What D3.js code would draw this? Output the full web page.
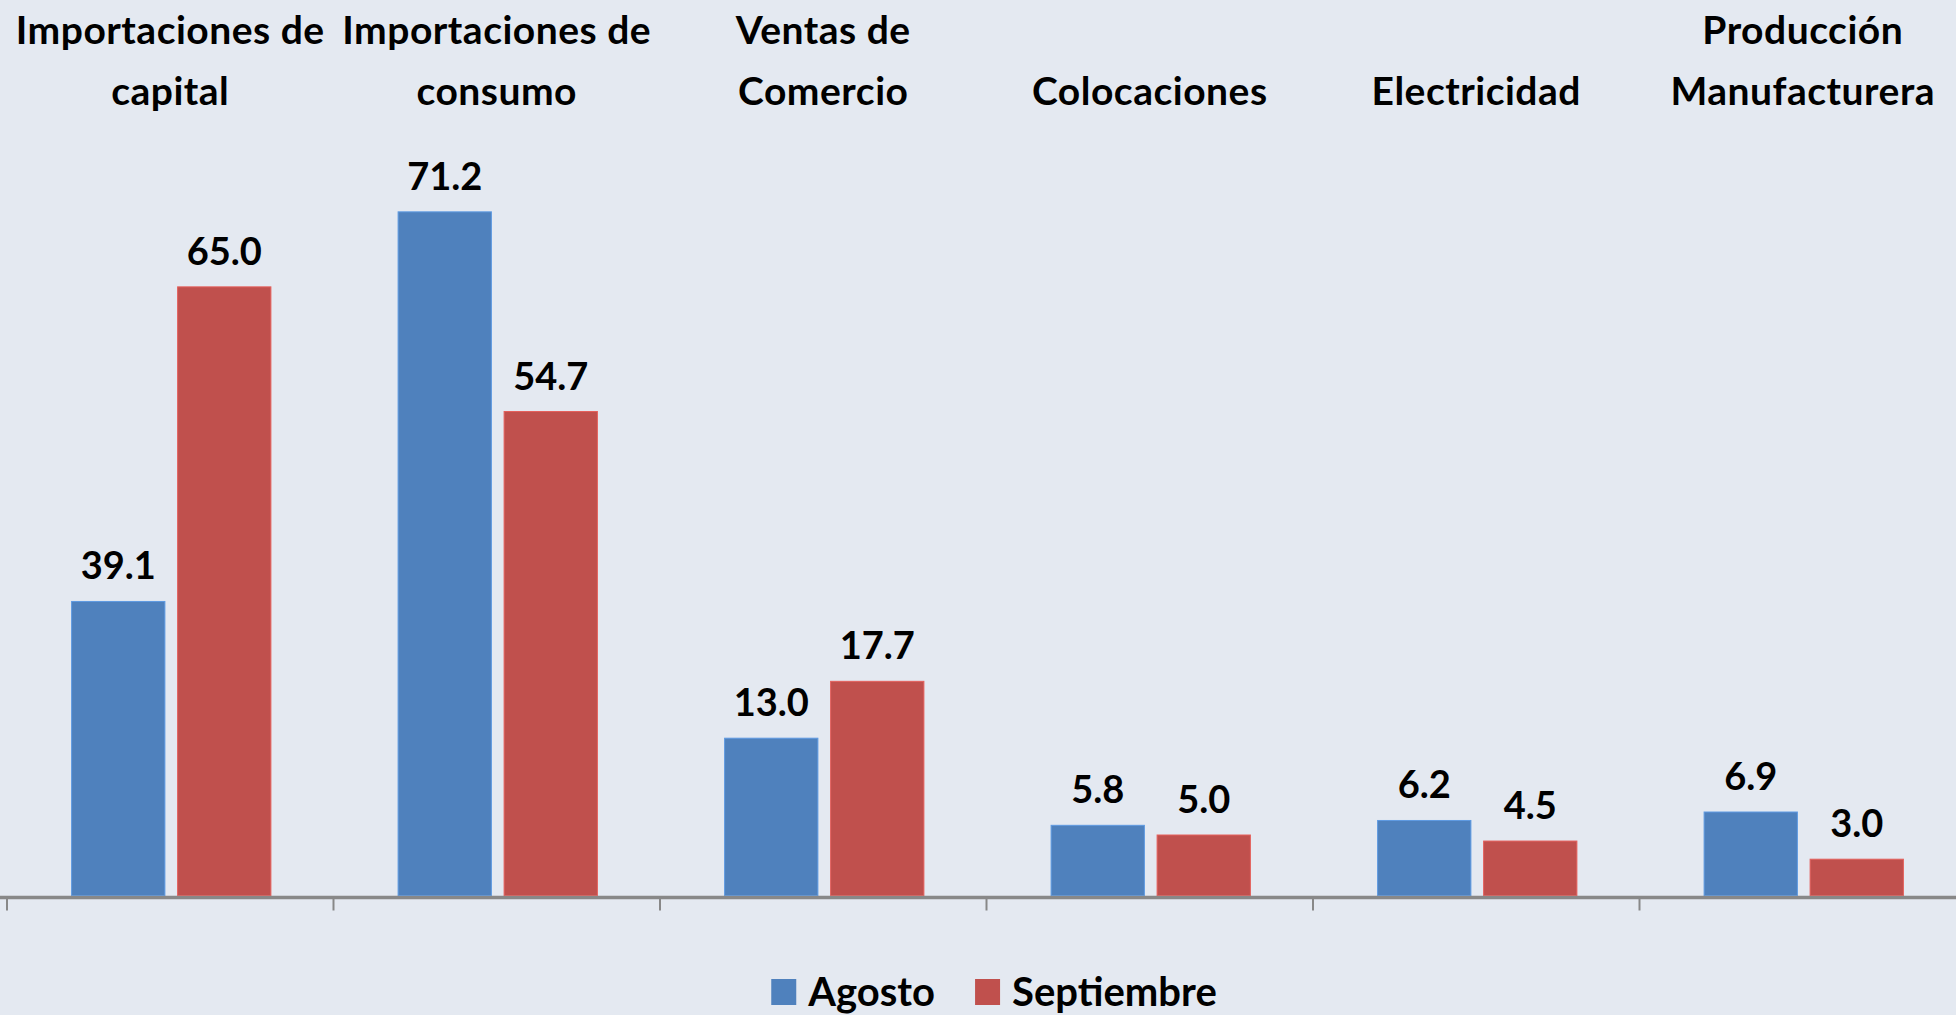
<!DOCTYPE html>
<html lang="es">
<head>
    <meta charset="UTF-8">
    <title>Agosto vs Septiembre</title>
    <style>
        body { margin: 0; background: #e4e9f1; overflow: hidden; }
        text { font-family: Lato, "DejaVu Sans", sans-serif; font-weight: bold; fill: #000; }
    </style>
</head>
<body>
    <div id="chart"></div>
    <script src="https://d3js.org/d3.v7.min.js"></script>
    <script>
        const categories = [
            ["Importaciones de", "capital"],
            ["Importaciones de", "consumo"],
            ["Ventas de", "Comercio"],
            ["Colocaciones"],
            ["Electricidad"],
            ["Producción", "Manufacturera"]
        ];
        const series = ["Agosto", "Septiembre"];
        const colors = ["#4f81bd", "#c0504d"];

        // printed data labels
        const agostoLabels = [39.1, 71.2, 13.0, 5.8, 6.2, 6.9];
        const septiembreLabels = [65.0, 54.7, 17.7, 5.0, 4.5, 3.0];
        // bar lengths as drawn in the picture (same units)
        const agostoBars = [24.3, 56.5, 13.0, 5.8, 6.2, 6.9];
        const septiembreBars = [50.3, 40.0, 17.7, 5.0, 4.5, 3.0];

        const W = 1956, H = 1015;
        const baseY = 895.5;

        const svg = d3.select("#chart")
            .append("svg")
            .attr("width", W)
            .attr("height", H);

        svg.append("rect")
            .attr("width", W)
            .attr("height", H)
            .attr("fill", "#e4e9f1");

        const x0 = d3.scaleBand()
            .domain(d3.range(categories.length))
            .range([7, 7 + 6 * 326.5]);

        const x1 = d3.scaleBand()
            .domain(series)
            .range([0, x0.bandwidth()])
            .paddingInner(0.12)
            .paddingOuter(0.6);

        const y = d3.scaleLinear()
            .domain([0, 60])
            .range([baseY, baseY - 60 * 12.1]);

        const rows = categories.map((c, i) => [
            { s: "Agosto", v: agostoBars[i], label: agostoLabels[i], color: colors[0] },
            { s: "Septiembre", v: septiembreBars[i], label: septiembreLabels[i], color: colors[1] }
        ]);

        const groups = svg.selectAll(".grp")
            .data(rows)
            .join("g")
            .attr("class", "grp")
            .attr("transform", (d, i) => "translate(" + (x0(i) + 1) + ",0)");

        groups.selectAll("rect")
            .data(d => d)
            .join("rect")
            .attr("x", d => x1(d.s))
            .attr("y", d => y(d.v))
            .attr("width", x1.bandwidth())
            .attr("height", d => y(0) - y(d.v))
            .attr("fill", d => d.color)
            .attr("stroke", d => d3.color(d.color).brighter(0.5))
            .attr("stroke-width", 1);

        groups.selectAll(".lbl")
            .data(d => d)
            .join("text")
            .attr("class", "lbl")
            .attr("x", d => x1(d.s) + x1.bandwidth() / 2)
            .attr("y", d => y(d.v) - 22)
            .attr("text-anchor", "middle")
            .style("font-size", "38px")
            .text(d => d.label.toFixed(1));

        // axis line + ticks
        svg.append("line")
            .attr("x1", 0).attr("x2", W)
            .attr("y1", baseY + 2).attr("y2", baseY + 2)
            .attr("stroke", "#888")
            .attr("stroke-width", 3.5);

        svg.selectAll(".tick")
            .data(d3.range(categories.length + 1))
            .join("line")
            .attr("class", "tick")
            .attr("x1", i => x0.range()[0] + i * x0.step())
            .attr("x2", i => x0.range()[0] + i * x0.step())
            .attr("y1", baseY + 3)
            .attr("y2", baseY + 15)
            .attr("stroke", "#888")
            .attr("stroke-width", 2);

        // category titles on top
        categories.forEach((lines, i) => {
            const cx = x0(i) + x0.bandwidth() / 2;
            const t = svg.append("text")
                .attr("text-anchor", "middle")
                .style("font-size", "39px")
                .style("letter-spacing", "0.5px");
            const start = lines.length === 2 ? 44 : 105;
            lines.forEach((ln, j) => {
                t.append("tspan")
                    .attr("x", cx)
                    .attr("y", start + j * 61)
                    .text(ln);
            });
        });

        // legend
        const legend = svg.append("g");
        let lx = 0;
        series.forEach((s, i) => {
            legend.append("rect")
                .attr("x", lx)
                .attr("y", 979)
                .attr("width", 25)
                .attr("height", 26)
                .attr("fill", colors[i]);
            const t = legend.append("text")
                .attr("x", lx + 37)
                .attr("y", 1006)
                .style("font-size", "40px")
                .text(s);
            lx += 37 + t.node().getComputedTextLength() + 40;
        });
        const legendW = lx - 40;
        legend.attr("transform", "translate(" + (994 - legendW / 2) + ",0)");
    </script>
</body>
</html>
